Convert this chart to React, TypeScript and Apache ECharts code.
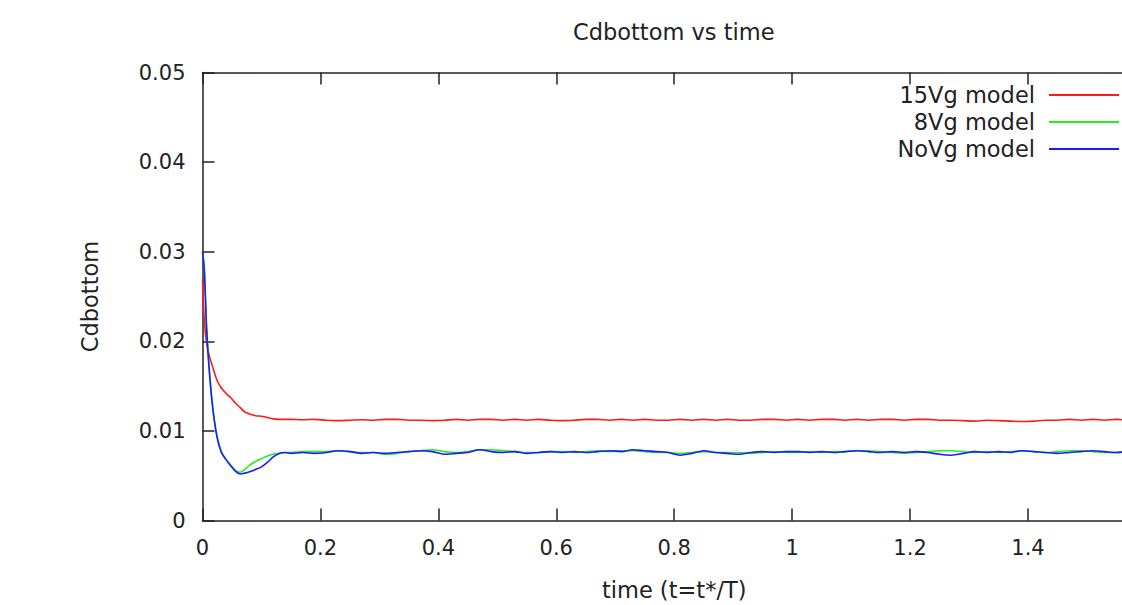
import React, { useEffect, useRef } from "react";
import * as echarts from "echarts";

const titleText = "Cdbottom vs time";
const xName = "time (t=t*/T)";
const yName = "Cdbottom";
const seriesNames = ["15Vg model", "8Vg model", "NoVg model"];
const seriesColors = ["#ff1a1a", "#22ee22", "#1a1aff"];

const timeValues = [
  0, 0.003, 0.007, 0.012, 0.018, 0.025, 0.032, 0.04, 0.048, 0.056,
  0.064, 0.072, 0.08, 0.09, 0.1, 0.11, 0.12, 0.13, 0.14, 0.15,
  0.17, 0.19, 0.21, 0.23, 0.25, 0.27, 0.29, 0.31, 0.33, 0.35,
  0.37, 0.39, 0.41, 0.43, 0.45, 0.47, 0.49, 0.51, 0.53, 0.55,
  0.57, 0.59, 0.61, 0.63, 0.65, 0.67, 0.69, 0.71, 0.73, 0.75,
  0.77, 0.79, 0.81, 0.83, 0.85, 0.87, 0.89, 0.91, 0.93, 0.95,
  0.97, 0.99, 1.01, 1.03, 1.05, 1.07, 1.09, 1.11, 1.13, 1.15,
  1.17, 1.19, 1.21, 1.23, 1.25, 1.27, 1.29, 1.31, 1.33, 1.35,
  1.37, 1.39, 1.41, 1.43, 1.45, 1.47, 1.49, 1.51, 1.53, 1.55,
  1.57, 1.59,
];

const cd15Vg = [
  0.027, 0.0224, 0.0198, 0.0183, 0.017, 0.0156, 0.0148, 0.0142, 0.0137, 0.0131,
  0.0126, 0.0121, 0.0119, 0.0117, 0.01165, 0.0115, 0.01135, 0.0113, 0.0113, 0.0113,
  0.01125, 0.0113, 0.0112, 0.01115, 0.0112, 0.01125, 0.0112, 0.0113, 0.0113, 0.0112,
  0.0112, 0.01115, 0.0112, 0.0113, 0.0112, 0.0113, 0.0113, 0.0112, 0.0113, 0.0112,
  0.0113, 0.0112, 0.01115, 0.0112, 0.0113, 0.0113, 0.0112, 0.0113, 0.0112, 0.0113,
  0.0112, 0.0112, 0.0113, 0.0112, 0.0113, 0.0112, 0.0113, 0.0112, 0.0112, 0.0113,
  0.0113, 0.0112, 0.0113, 0.0112, 0.0113, 0.0113, 0.0112, 0.0113, 0.0112, 0.0113,
  0.0113, 0.0112, 0.0113, 0.0113, 0.0112, 0.0112, 0.01115, 0.0111, 0.0112, 0.01115,
  0.0111, 0.01105, 0.0111, 0.0112, 0.0112, 0.0113, 0.0112, 0.0113, 0.0112, 0.0113,
  0.0112, 0.0113,
];

const cd8Vg = [
  0.03, 0.0282, 0.0216, 0.0165, 0.0123, 0.0093, 0.0077, 0.0068, 0.0062, 0.0056,
  0.0054, 0.0057, 0.0062, 0.0066, 0.0069, 0.0072, 0.0074, 0.0075, 0.0076, 0.0076,
  0.0077, 0.0077, 0.0077, 0.0078, 0.0077, 0.0076, 0.0076, 0.0074, 0.0075, 0.0077,
  0.0078, 0.0079, 0.0077, 0.0076, 0.0077, 0.0079, 0.0079, 0.0078, 0.0077, 0.0076,
  0.0076, 0.0077, 0.0077, 0.0076, 0.0077, 0.0078, 0.0077, 0.0078, 0.0078, 0.0077,
  0.0076, 0.0076, 0.0075, 0.0076, 0.0077, 0.0076, 0.0076, 0.0076, 0.0075, 0.0076,
  0.0077, 0.0076, 0.0076, 0.0077, 0.0076, 0.0077, 0.0077, 0.0078, 0.0078, 0.0077,
  0.0076, 0.0075, 0.0076, 0.0077, 0.0078, 0.0078, 0.0077, 0.0076, 0.0077, 0.0076,
  0.0077, 0.0078, 0.0077, 0.0076, 0.0077, 0.0078, 0.0078, 0.0077, 0.0076, 0.0076,
  0.0077, 0.0076,
];

const cdNoVg = [
  0.03, 0.028, 0.0213, 0.0163, 0.0122, 0.0092, 0.0076, 0.0068, 0.0061, 0.0055,
  0.0052, 0.0053, 0.00545, 0.0057, 0.006, 0.0065, 0.0071, 0.0075, 0.0076, 0.0075,
  0.0076, 0.0075, 0.0076, 0.0078, 0.0077, 0.0075, 0.0076, 0.0075, 0.0076, 0.0077,
  0.0078, 0.0077, 0.0074, 0.0075, 0.0076, 0.0079, 0.0077, 0.0076, 0.0077, 0.0075,
  0.0076, 0.0077, 0.0076, 0.0077, 0.0076, 0.0077, 0.0078, 0.0077, 0.0079, 0.0078,
  0.0077, 0.0076, 0.0073, 0.0075, 0.0078, 0.0076, 0.0075, 0.0074, 0.0076, 0.0077,
  0.0076, 0.0077, 0.0077, 0.0076, 0.0077, 0.0076, 0.0077, 0.0078, 0.0077, 0.0076,
  0.0077, 0.0076, 0.0077, 0.0076, 0.0074, 0.0073, 0.0075, 0.0077, 0.0076, 0.0077,
  0.0076, 0.0078, 0.0077, 0.0076, 0.0075, 0.0076, 0.0077, 0.0078, 0.0077, 0.0076,
  0.0077, 0.0076,
];

const seriesValues = [cd15Vg, cd8Vg, cdNoVg];

const FONT = "DejaVu Sans";
const TEXT_COLOR = "#222222";
const AXIS_COLOR = "#222222";

export default function App() {
  const ref = useRef<HTMLDivElement>(null);

  useEffect(() => {
    document.body.style.margin = "0";
    if (!ref.current) return;
    const chart = echarts.init(ref.current, undefined, { renderer: "svg" });

    const axisLine = { show: true, lineStyle: { color: AXIS_COLOR, width: 1.5 } };
    const axisTick = { show: true, inside: true, length: 12, lineStyle: { color: AXIS_COLOR, width: 1.5 } };

    chart.setOption({
      animation: false,
      backgroundColor: "#ffffff",
      title: {
        text: titleText,
        left: 568,
        top: 15,
        textStyle: { fontFamily: FONT, fontSize: 22.5, fontWeight: "normal", color: TEXT_COLOR },
      },
      legend: {
        orient: "vertical",
        right: 31,
        top: 81.5,
        padding: 0,
        align: "right",
        itemGap: 0,
        itemWidth: 70,
        itemHeight: 2,
        icon: "rect",
        data: seriesNames,
        textStyle: {
          fontFamily: FONT,
          fontSize: 22.5,
          color: TEXT_COLOR,
          lineHeight: 27,
          padding: [0, 9, 0, 0],
        },
      },
      grid: {
        left: 202.5,
        right: 4.1,
        top: 72.5,
        bottom: 84.4,
        containLabel: false,
        outerBoundsMode: "none",
      },
      xAxis: [
        {
          type: "value",
          min: 0,
          max: 1.6,
          interval: 0.2,
          position: "bottom",
          name: xName,
          nameLocation: "middle",
          nameGap: 58,
          nameTextStyle: { fontFamily: FONT, fontSize: 22.5, color: TEXT_COLOR },
          axisLine,
          axisTick,
          axisLabel: { fontFamily: FONT, fontSize: 21, color: TEXT_COLOR, margin: 17, showMaxLabel: false },
          splitLine: { show: false },
        },
        {
          type: "value",
          min: 0,
          max: 1.6,
          interval: 0.2,
          position: "top",
          axisLine,
          axisTick,
          axisLabel: { show: false },
          splitLine: { show: false },
        },
      ],
      yAxis: {
        type: "value",
        min: 0,
        max: 0.05,
        interval: 0.01,
        name: yName,
        nameLocation: "middle",
        nameRotate: 90,
        nameGap: 101,
        nameTextStyle: { fontFamily: FONT, fontSize: 22.5, color: TEXT_COLOR },
        axisLine,
        axisTick,
        axisLabel: { fontFamily: FONT, fontSize: 21, color: TEXT_COLOR, margin: 17 },
        splitLine: { show: false },
      },
      series: seriesNames.map((name, i) => ({
        name,
        type: "line",
        xAxisIndex: 0,
        data: timeValues.map((t, k) => [t, seriesValues[i][k]]),
        showSymbol: false,
        symbol: "none",
        smooth: 0.3,
        lineStyle: { color: seriesColors[i], width: 1.6 },
        itemStyle: { color: seriesColors[i] },
      })),
    });

    return () => chart.dispose();
  }, []);

  return (
    <div style={{ position: "absolute", left: 0, top: 0, width: 1122, height: 605, overflow: "hidden", background: "#fff" }}>
      <div ref={ref} style={{ width: 1150, height: 605 }} />
    </div>
  );
}
